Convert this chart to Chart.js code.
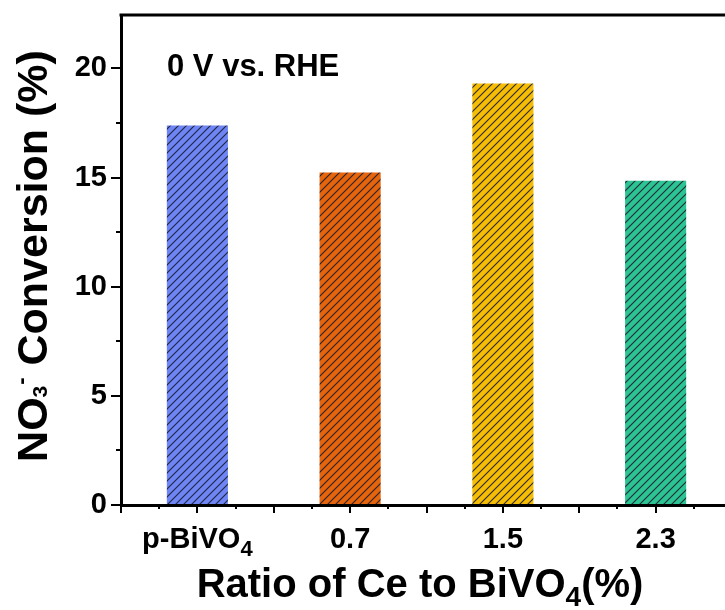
<!DOCTYPE html>
<html>
<head>
<meta charset="utf-8">
<script src="https://cdn.jsdelivr.net/npm/chart.js@4.4.1/dist/chart.umd.min.js"></script>
<style>
	html, body { margin: 0; padding: 0; background: #fff; overflow: hidden; }
	#wrap { width: 740px; height: 610px; }
</style>
</head>
<body>
<div id="wrap"><canvas id="convChart" width="740" height="610"></canvas></div>
<script>
// 데이터
const categories = ['p-BiVO', '0.7', '1.5', '2.3'];
const categorySubs = ['4', '', '', ''];
const conversion = [17.39, 15.23, 19.31, 14.86];
const barColors = ['#6e86f4', '#e4650c', '#f5be05', '#2cc492'];
const yTicks = [0, 5, 10, 15, 20];
const xTicks = [-0.5, 0, 0.5, 1, 1.5, 2, 2.5, 3, 3.5];

const FONT = '"Liberation Sans", Arial, sans-serif';

// 사선 해칭 패턴
function hatch(color) {
	const c = document.createElement('canvas');
	c.width = 8; c.height = 8;
	const g = c.getContext('2d');
	g.fillStyle = color;
	g.fillRect(0, 0, 8, 8);
	g.strokeStyle = 'rgba(25, 25, 45, 0.9)';
	g.lineWidth = 1.1;
	g.beginPath();
	g.moveTo(0, 8); g.lineTo(8, 0);
	g.moveTo(-2, 2); g.lineTo(2, -2);
	g.moveTo(6, 10); g.lineTo(10, 6);
	g.stroke();
	return g.createPattern(c, 'repeat');
}

// 첨자 포함 텍스트
function runsWidth(ctx, runs) {
	let cx = 0;
	runs.forEach(r => {
		ctx.font = 'bold ' + r.size + 'px ' + FONT;
		cx += ctx.measureText(r.t).width + (r.gap || 0);
	});
	return cx;
}
function drawRuns(ctx, runs, x, y) {
	let cx = x;
	runs.forEach(r => {
		ctx.font = 'bold ' + r.size + 'px ' + FONT;
		ctx.fillText(r.t, cx, y + r.dy);
		cx += ctx.measureText(r.t).width + (r.gap || 0);
	});
}

const extras = {
	id: 'extras',
	afterDraw(chart) {
		const {ctx, chartArea: {left, right, top, bottom}, scales: {x, y}} = chart;
		ctx.save();
		ctx.strokeStyle = '#000';
		ctx.fillStyle = '#000';
		ctx.textAlign = 'left';
		ctx.textBaseline = 'alphabetic';

		// 상단, 오른쪽 테두리
		ctx.lineWidth = 3;
		ctx.beginPath();
		ctx.moveTo(left - 1.5, top);
		ctx.lineTo(right, top);
		ctx.lineTo(right, bottom);
		ctx.stroke();

		// 보조 눈금
		ctx.lineWidth = 2;
		ctx.beginPath();
		for (let v = -0.25; v < 3.5; v += 0.5) {
			const px = Math.round(x.getPixelForValue(v));
			ctx.moveTo(px, bottom);
			ctx.lineTo(px, bottom + 4);
		}
		for (let v = 2.5; v < 22; v += 5) {
			const py = Math.round(y.getPixelForValue(v));
			ctx.moveTo(left, py);
			ctx.lineTo(left - 5, py);
		}
		ctx.stroke();

		// x축 라벨
		categories.forEach((c, i) => {
			const runs = [{t: c, size: 29, dy: 0}];
			if (categorySubs[i]) runs.push({t: categorySubs[i], size: 22, dy: 8});
			const w = runsWidth(ctx, runs);
			drawRuns(ctx, runs, x.getPixelForValue(i) - w / 2, 548);
		});

		// x축 제목
		const xt = [
			{t: 'Ratio of Ce to BiVO', size: 40, dy: 0},
			{t: '4', size: 28, dy: 9},
			{t: '(%)', size: 40, dy: 0}
		];
		drawRuns(ctx, xt, 420 - runsWidth(ctx, xt) / 2, 597);

		// y축 제목
		const yt = [
			{t: 'NO', size: 43, dy: 0},
			{t: '3', size: 21, dy: 0, gap: 1},
			{t: '-', size: 22, dy: -19},
			{t: ' Conversion (%)', size: 43, dy: 0}
		];
		const yw = runsWidth(ctx, yt);
		ctx.translate(47, 256 + yw / 2);
		ctx.rotate(-Math.PI / 2);
		drawRuns(ctx, yt, 0, 0);
		ctx.restore();

		// 주석
		ctx.save();
		ctx.fillStyle = '#000';
		ctx.font = 'bold 31px ' + FONT;
		ctx.fillText('0 V vs. RHE', left + 46, top + 61);
		ctx.restore();
	}
};

const ctx = document.getElementById('convChart').getContext('2d');
const convChart = new Chart(ctx, {
	type: 'bar',
	data: {
		datasets: [{
			data: conversion.map((v, i) => ({x: i, y: v})),
			backgroundColor: barColors.map(hatch),
			borderWidth: 0,
			barPercentage: 0.8,
			categoryPercentage: 1.0
		}]
	},
	options: {
		responsive: false,
		animation: false,
		layout: { padding: { top: 15, right: 8, left: 0, bottom: 0 } },
		plugins: {
			legend: { display: false },
			tooltip: { enabled: false }
		},
		scales: {
			x: {
				type: 'linear',
				min: -0.5,
				max: 3.5,
				offset: false,
				afterBuildTicks(s) { s.ticks = xTicks.map(v => ({value: v})); },
				afterFit(s) { s.height = 105; s.paddingLeft = 0; s.paddingRight = 0; },
				ticks: { display: false },
				grid: { offset: false, drawOnChartArea: false, drawTicks: true, tickLength: 8, color: '#000', lineWidth: 2 },
				border: { display: true, color: '#000', width: 3 }
			},
			y: {
				min: 0,
				max: 22.45,
				afterBuildTicks(s) { s.ticks = yTicks.map(v => ({value: v})); },
				afterFit(s) { s.width = 121; s.paddingTop = 0; s.paddingBottom = 0; },
				ticks: {
					color: '#000',
					padding: 4,
					font: { family: FONT, size: 29, weight: 'bold' }
				},
				grid: { drawOnChartArea: false, drawTicks: true, tickLength: 10, color: '#000', lineWidth: 2 },
				border: { display: true, color: '#000', width: 3 }
			}
		}
	},
	plugins: [extras]
});
</script>
</body>
</html>
